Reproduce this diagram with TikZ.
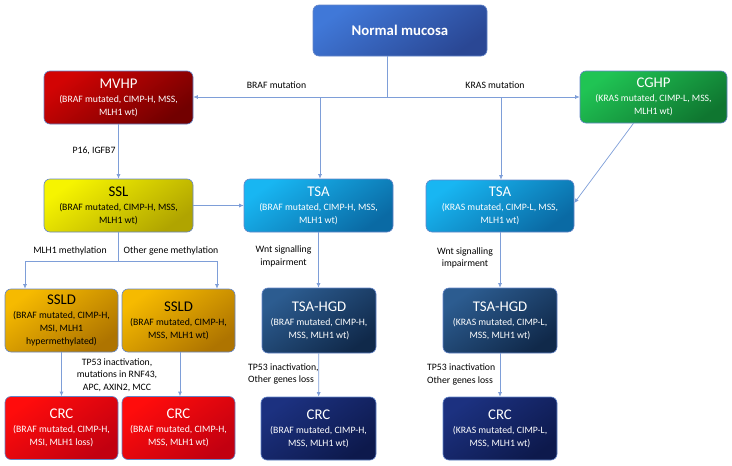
\documentclass[tikz,border=0pt]{standalone}
\usepackage{fontspec}
\setmainfont{Carlito}
\usetikzlibrary{arrows.meta}
\definecolor{bordercol}{HTML}{6485C8}
\definecolor{linecol}{HTML}{7E9ED8}
\definecolor{nmA}{HTML}{4078D8}\definecolor{nmB}{HTML}{2A4794}
\definecolor{mvA}{HTML}{D20404}\definecolor{mvB}{HTML}{720000}
\definecolor{cgA}{HTML}{20C454}\definecolor{cgB}{HTML}{0F7630}
\definecolor{ssA}{HTML}{F6F400}\definecolor{ssB}{HTML}{B0A400}
\definecolor{tsA}{HTML}{18B6F2}\definecolor{tsB}{HTML}{0A6AA4}
\definecolor{sdA}{HTML}{F6BA00}\definecolor{sdB}{HTML}{AE7400}
\definecolor{crA}{HTML}{FF0C0C}\definecolor{crB}{HTML}{C20010}
\definecolor{hgA}{HTML}{2C5C90}\definecolor{hgB}{HTML}{10294A}
\definecolor{cnA}{HTML}{1C3180}\definecolor{cnB}{HTML}{0D194C}
\tikzset{
  box/.style={rounded corners=6pt, draw=bordercol, line width=0.6pt, align=center,
    inner sep=0pt, text=white, font=\fontsize{9.75}{12.8}\selectfont},
  grad/.style 2 args={top color=#1, bottom color=#2, shading angle=35},
  conn/.style={draw=linecol, line width=0.7pt},
  arr/.style={conn, -{Latex[length=4.5pt,width=4pt]}},
  lbl/.style={text=black, font=\fontsize{9.75}{12.5}\selectfont, inner sep=0pt, align=center},
}
\newcommand{\ttl}[1]{{\fontsize{14.8}{16}\selectfont #1}\\[1.5pt]}
\begin{document}
\begin{tikzpicture}[x=1pt,y=-1pt]
\useasboundingbox (0,0) rectangle (732,466);
% nodes
\node[box, grad={nmA}{nmB}, minimum width=174pt, minimum height=51pt] (nm) at (400,30.5)
  {\fontsize{14.8}{16}\selectfont\bfseries Normal mucosa};
\node[box, grad={mvA}{mvB}, minimum width=149pt, minimum height=53pt] (mvhp) at (118.5,97.5)
  {\ttl{MVHP}(BRAF mutated, CIMP-H, MSS,\\ MLH1 wt)};
\node[box, grad={cgA}{cgB}, minimum width=147pt, minimum height=52pt] (cghp) at (653.5,97)
  {\ttl{CGHP}(KRAS mutated, CIMP-L, MSS,\\ MLH1 wt)};
\node[box, grad={ssA}{ssB}, text=black, minimum width=149pt, minimum height=53pt] (ssl) at (118.5,205.5)
  {\ttl{SSL}(BRAF mutated, CIMP-H, MSS,\\ MLH1 wt)};
\node[box, grad={tsA}{tsB}, minimum width=149pt, minimum height=53pt] (tsa1) at (318.5,205.5)
  {\ttl{TSA}(BRAF mutated, CIMP-H, MSS,\\ MLH1 wt)};
\node[box, grad={tsA}{tsB}, minimum width=148pt, minimum height=52pt] (tsa2) at (500,206)
  {\ttl{TSA}(KRAS mutated, CIMP-L, MSS,\\ MLH1 wt)};
\node[box, grad={sdA}{sdB}, text=black, minimum width=113pt, minimum height=63pt] (ssld1) at (61.5,320.5)
  {\ttl{SSLD}(BRAF mutated, CIMP-H,\\ MSI, MLH1\\ hypermethylated)};
\node[box, grad={sdA}{sdB}, text=black, minimum width=113pt, minimum height=63pt] (ssld2) at (178.5,320.5)
  {\ttl{SSLD}(BRAF mutated, CIMP-H,\\ MSS, MLH1 wt)};
\node[box, grad={crA}{crB}, minimum width=113pt, minimum height=63pt] (crc1) at (61.5,428)
  {\ttl{CRC}(BRAF mutated, CIMP-H,\\ MSI, MLH1 loss)};
\node[box, grad={crA}{crB}, minimum width=113pt, minimum height=63pt] (crc2) at (178.5,428)
  {\ttl{CRC}(BRAF mutated, CIMP-H,\\ MSS, MLH1 wt)};
\node[box, grad={hgA}{hgB}, minimum width=114pt, minimum height=65pt] (hgd1) at (319,320.5)
  {\ttl{TSA-HGD}(BRAF mutated, CIMP-H,\\ MSS, MLH1 wt)};
\node[box, grad={hgA}{hgB}, minimum width=114pt, minimum height=65pt] (hgd2) at (500,320.5)
  {\ttl{TSA-HGD}(KRAS mutated, CIMP-L,\\ MSS, MLH1 wt)};
\node[box, grad={cnA}{cnB}, minimum width=115pt, minimum height=63pt] (crc3) at (318.5,428.5)
  {\ttl{CRC}(BRAF mutated, CIMP-H,\\ MSS, MLH1 wt)};
\node[box, grad={cnA}{cnB}, minimum width=114pt, minimum height=63pt] (crc4) at (500,428.5)
  {\ttl{CRC}(KRAS mutated, CIMP-L,\\ MSS, MLH1 wt)};
% junctions
\coordinate (j0) at (387,97);
\coordinate (jb) at (320,97);
\coordinate (jk) at (501,97);
\coordinate (js) at (118.5,261);
\coordinate (jl) at (25,261);
\coordinate (jr) at (217,261);
% connectors
\draw[conn] (nm.south -| j0) -- (j0);
\draw[arr] (j0) -- (j0 -| mvhp.east);
\draw[arr] (j0) -- (j0 -| cghp.west);
\draw[arr] (jb) -- (jb |- tsa1.north);
\draw[arr] (jk) -- (jk |- tsa2.north);
\draw[arr] (mvhp) -- (ssl);
\draw[arr] (ssl) -- (tsa1);
\draw[arr] ([xshift=-20pt]cghp.south) -- ([yshift=3pt]tsa2.east);
\draw[conn] (ssl.south) -- (js);
\draw[conn] (jl) -- (jr);
\draw[arr] (jl) -- (jl |- ssld1.north);
\draw[arr] (jr) -- (jr |- ssld2.north);
\draw[arr] (ssld1) -- (crc1);
\draw[arr] (ssld2.south -| 180,0) -- (crc2.north -| 180,0);
\draw[arr] (tsa1.south) -- (tsa1.south |- hgd1.north);
\draw[arr] (tsa2.south) -- (tsa2.south |- hgd2.north);
\draw[arr] (hgd1) -- (crc3);
\draw[arr] (hgd2) -- (crc4);
% labels
\node[lbl] (l1) at (276.5,85) {BRAF mutation};
\node[lbl] (l2) at (495,85) {KRAS mutation};
\node[lbl] (l3) at (94,151) {P16, IGFB7};
\node[lbl] (l4) at (70,251) {MLH1 methylation};
\node[lbl] (l5) at (171,251) {Other gene methylation};
\node[lbl] (l6) at (283.5,256.5) {Wnt signalling\\ impairment};
\node[lbl] (l7) at (465,258) {Wnt signalling\\ impairment};
\node[lbl] (l8) at (117,375) {TP53 inactivation,\\ mutations in RNF43,\\ APC, AXIN2, MCC};
\node[lbl, anchor=west, align=left] (l9) at (248,374) {TP53 inactivation,\\ Other genes loss};
\node[lbl, anchor=west, align=left] (l10) at (427,374.5) {TP53 inactivation\\ Other genes loss};
\end{tikzpicture}
\end{document}
